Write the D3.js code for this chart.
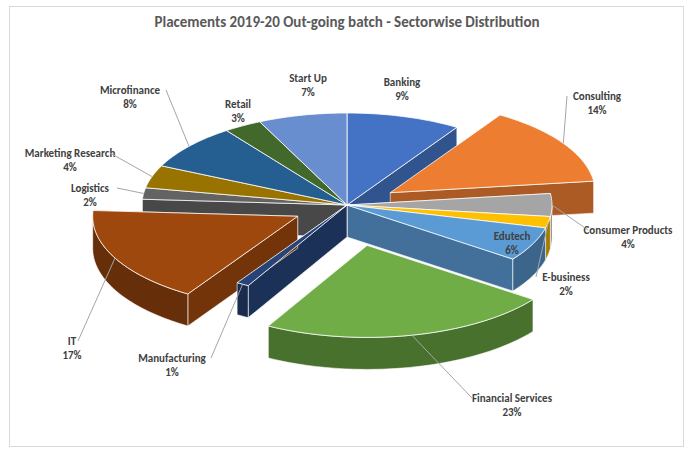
<!DOCTYPE html>
<html><head><meta charset="utf-8">
<script src="https://cdn.jsdelivr.net/npm/d3@7"></script>
<style>body{margin:0;background:#fff;font-family:Calibri,Carlito,"Liberation Sans",Arial,sans-serif}</style>
</head><body>
<svg id="c" width="693" height="455"></svg>
<script>
const categories = ["Banking","Consulting","Consumer Products","E-business","Edutech","Financial Services","Manufacturing","IT","Logistics","Marketing Research","Microfinance","Retail","Start Up"];
const shares = [9,14,4,2,6,23,1,17,2,4,8,3,7];
const colors = ["#4472C4","#ED7D31","#A5A5A5","#FFC000","#5B9BD5","#70AD47","#264478","#9E480E","#636363","#997300","#255E91","#43682B","#698ED0"];
const exploded = {"Consulting":0.25,"Financial Services":0.45,"IT":0.27};
const labelLayout = {
 "Banking":[402,86],"Consulting":[597,100],"Consumer Products":[628,234],"E-business":[566,281],
 "Edutech":[512,240],"Financial Services":[512,402],"Manufacturing":[172,362],"IT":[72,345],
 "Logistics":[90,192],"Marketing Research":[70,157],"Microfinance":[130,94],"Retail":[238,108],"Start Up":[308,82]};

const svg = d3.select("#c");
svg.append("rect").attr("x",9.5).attr("y",6.5).attr("width",674).attr("height",440).attr("fill","#fff").attr("stroke","#d9d9d9");
svg.append("text").attr("x",347).attr("y",27).attr("text-anchor","middle").attr("font-size",15).attr("font-weight","bold").attr("fill","#595959")
 .text("Placements 2019-20 Out-going batch - Sectorwise Distribution");

const cx=347, cy=205, rx=205, ry=92, depth=32;
const pie = d3.pie().sort(null).value(d=>d.v).startAngle(0).endAngle(2*Math.PI);
const arcs = pie(categories.map((c,i)=>({c,v:shares[i],col:colors[i]})));
const P=(o,a,r=1,dz=0)=>[o[0]+rx*r*Math.sin(a), o[1]-ry*r*Math.cos(a)+dz];
arcs.forEach(a=>{const m=(a.startAngle+a.endAngle)/2, e=exploded[a.data.c]||0;
 a.mid=m; a.o=[cx+rx*e*Math.sin(m), cy-ry*e*Math.cos(m)];});

function arcPts(o,a0,a1,dz){const n=Math.max(2,Math.ceil((a1-a0)/0.02));return d3.range(n+1).map(i=>P(o,a0+(a1-a0)*i/n,1,dz));}
const walls=svg.append("g"), tops=svg.append("g");
const wallItems=[];
arcs.forEach(a=>{
 const dark=d3.color(a.data.col).darker(1.2).toString();
 const o=a.o;
 [a.startAngle,a.endAngle].forEach(ang=>{
  const e=P(o,ang);
  wallItems.push({y:(o[1]+e[1])/2, col:d3.color(a.data.col).darker(0.9).toString(),
   pts:[o,e,[e[0],e[1]+depth],[o[0],o[1]+depth]]});
 });
 const s=Math.max(a.startAngle,Math.PI/2), t=Math.min(a.endAngle,3*Math.PI/2);
 if(t>s){const top=arcPts(o,s,t,0), bot=arcPts(o,s,t,depth).reverse();
  wallItems.push({y:o[1]+ry+5, col:dark, pts:top.concat(bot)});}
});
wallItems.sort((a,b)=>a.y-b.y).forEach(w=>walls.append("path").attr("d",d3.line()(w.pts)+"Z").attr("fill",w.col).attr("stroke","#fff").attr("stroke-width",0.6));
arcs.forEach(a=>{
 const pts=[a.o].concat(arcPts(a.o,a.startAngle,a.endAngle,0));
 tops.append("path").attr("d",d3.line()(pts)+"Z").attr("fill",a.data.col).attr("stroke","#fff").attr("stroke-width",0.8);
});
const lg=svg.append("g").attr("font-size",11).attr("font-weight","bold").attr("fill","#404040").attr("text-anchor","middle");
arcs.forEach(a=>{
 const [lx,ly]=labelLayout[a.data.c];
 const edge=P(a.o,a.mid,1.0);
 if(a.data.c!=="Edutech"){
  const d=Math.hypot(lx-edge[0],ly-edge[1]);
  if(d>45){const ax=lx+(edge[0]>lx?1:-1)*Math.min(40,a.data.c.length*3);
   svg.append("polyline").attr("points",[[ax,ly-4],[edge[0],edge[1]]].join(" ")).attr("fill","none").attr("stroke","#a6a6a6");}
 }
 const t=lg.append("text").attr("x",lx).attr("y",ly);
 t.append("tspan").attr("x",lx).text(a.data.c);
 t.append("tspan").attr("x",lx).attr("dy",14).text(a.data.v+"%");
});
</script></body></html>
